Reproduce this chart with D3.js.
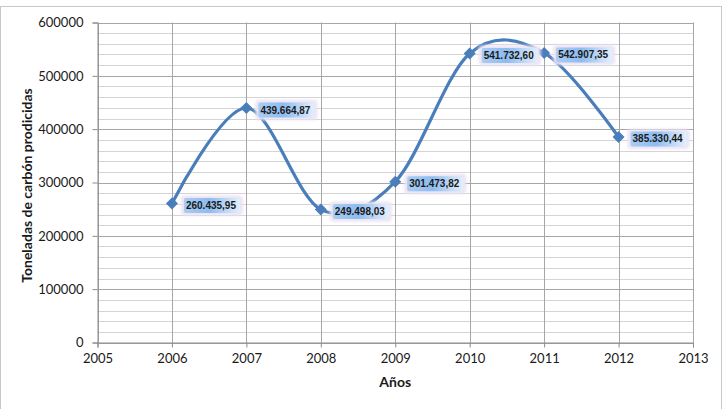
<!DOCTYPE html>
<html><head><meta charset="utf-8">
<script src="https://cdn.jsdelivr.net/npm/d3@7"></script>
<style>body{margin:0;background:#fff}svg{display:block}</style>
</head><body>
<script>
const years = [2006, 2007, 2008, 2009, 2010, 2011, 2012];
const values = [260435.95, 439664.87, 249498.03, 301473.82, 541732.60, 542907.35, 385330.44];
const labels = ["260.435,95", "439.664,87", "249.498,03", "301.473,82", "541.732,60", "542.907,35", "385.330,44"];
const xTicks = [2005, 2006, 2007, 2008, 2009, 2010, 2011, 2012, 2013];
const yTicks = [0, 100000, 200000, 300000, 400000, 500000, 600000];
const yMinor = d3.range(0, 600001, 20000);

const W = 726, H = 409;
const svg = d3.select("body").append("svg").attr("width", W).attr("height", H);
const m = {l: 97.5, r: 693, t: 22.5, b: 342.5};
const x = d3.scaleLinear().domain([2005, 2013]).range([m.l, m.r]);
const y = d3.scaleLinear().domain([0, 600000]).range([m.b, m.t]);

// outer frame
svg.append("rect").attr("x", 0.5).attr("y", 6.5).attr("width", 721).attr("height", 410)
  .attr("fill", "#fff").attr("stroke", "#c8c8c8");

const defs = svg.append("defs");
const grad = defs.append("linearGradient").attr("id", "hl").attr("x1", 0).attr("x2", 1).attr("y1", 0).attr("y2", 0);
grad.append("stop").attr("offset", "0%").attr("stop-color", "#a9cdf5");
grad.append("stop").attr("offset", "45%").attr("stop-color", "#8dbcf0");
grad.append("stop").attr("offset", "100%").attr("stop-color", "#e4effc");
const flt = defs.append("filter").attr("id", "glow").attr("x", "-20%").attr("y", "-40%").attr("width", "140%").attr("height", "180%");
flt.append("feGaussianBlur").attr("stdDeviation", 1.5);

// minor grid
svg.append("g").selectAll("line").data(yMinor).join("line")
  .attr("x1", m.l).attr("x2", m.r)
  .attr("y1", d => Math.round(y(d)) + 0.5).attr("y2", d => Math.round(y(d)) + 0.5)
  .attr("stroke", "#d4d4d4").attr("stroke-width", 1);
// major y grid
svg.append("g").selectAll("line").data(yTicks).join("line")
  .attr("x1", m.l).attr("x2", m.r)
  .attr("y1", d => Math.round(y(d)) + 0.5).attr("y2", d => Math.round(y(d)) + 0.5)
  .attr("stroke", "#a6a6a6").attr("stroke-width", 1);
// vertical grid
svg.append("g").selectAll("line").data(xTicks).join("line")
  .attr("y1", m.t).attr("y2", m.b)
  .attr("x1", d => Math.round(x(d)) + 0.5).attr("x2", d => Math.round(x(d)) + 0.5)
  .attr("stroke", "#a6a6a6").attr("stroke-width", 1);

// axes
const font = "Lato, 'Open Sans', sans-serif";
const yAxis = svg.append("g").attr("transform", `translate(${m.l},0)`)
  .call(d3.axisLeft(y).tickValues(yTicks).tickFormat(d3.format("d")).tickSize(5).tickPadding(9));
const xAxis = svg.append("g").attr("transform", `translate(0,${m.b})`)
  .call(d3.axisBottom(x).tickValues(xTicks).tickFormat(d3.format("d")).tickSize(5).tickPadding(6));
[yAxis, xAxis].forEach(a => {
  a.select(".domain").attr("stroke", "#8c8c8c");
  a.selectAll(".tick line").attr("stroke", "#8c8c8c");
  a.selectAll("text").attr("font-family", font).attr("font-size", 13).attr("fill", "#1a1a1a");
});

// line (Excel-style smoothing)
const pts = years.map((yr, i) => [x(yr), y(values[i])]);
svg.append("path").datum(pts)
  .attr("d", d3.line().curve(d3.curveCardinal.tension(0)))
  .attr("fill", "none").attr("stroke", "#4a7ebb").attr("stroke-width", 3.2);

// markers
svg.append("g").selectAll("path").data(pts).join("path")
  .attr("transform", d => `translate(${d[0]},${d[1]})`)
  .attr("d", "M0,-6L6,0L0,6L-6,0Z").attr("fill", "#4a7ebb");

// data labels
const lg = svg.append("g").selectAll("g").data(pts).join("g")
  .attr("transform", d => `translate(${d[0] + 14},${d[1] + 2})`);
lg.append("rect").attr("x", -5).attr("y", -10).attr("width", 62).attr("height", 20).attr("rx", 4)
  .attr("fill", "#ece3f3").attr("filter", "url(#glow)");
lg.append("rect").attr("x", -2).attr("y", -7.5).attr("width", 56).attr("height", 15).attr("rx", 2)
  .attr("fill", "url(#hl)");
lg.append("text").text((d, i) => labels[i])
  .attr("x", 0).attr("y", 3.5)
  .attr("font-family", "'Liberation Sans', Arial, sans-serif").attr("font-weight", "bold")
  .attr("font-size", 10).attr("fill", "#1a1a1a");

// titles
svg.append("text").text("Años").attr("x", (m.l + m.r) / 2).attr("y", 387)
  .attr("text-anchor", "middle").attr("font-family", font).attr("font-weight", "bold")
  .attr("font-size", 14).attr("fill", "#1a1a1a");
svg.append("text").text("Toneladas de carbón prodicidas")
  .attr("transform", `translate(32,${(m.t + m.b) / 2 + 3}) rotate(-90)`)
  .attr("text-anchor", "middle").attr("font-family", font).attr("font-weight", "bold")
  .attr("font-size", 14).attr("fill", "#1a1a1a");
</script>
</body></html>
